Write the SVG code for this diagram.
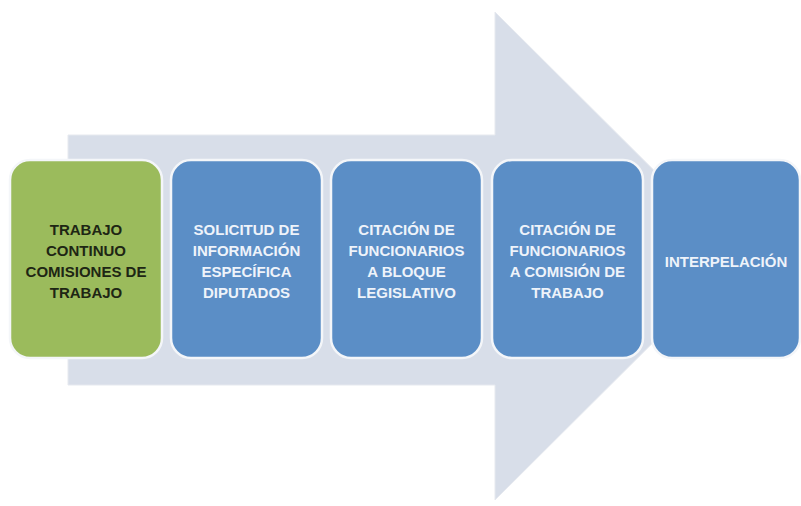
<svg xmlns="http://www.w3.org/2000/svg" width="801" height="506" viewBox="0 0 801 506">
<style>
.box{stroke:#f4f6f9;stroke-width:2.5}
.green{fill:#9bbb5c}
.blue{fill:#5b8ec6}
.t{font-family:"Liberation Sans",Arial,sans-serif;font-weight:bold;font-size:15px;text-anchor:middle}
.dark{fill:#1e2614}
.light{fill:#eef3fa}
</style>
<rect width="801" height="506" fill="#ffffff"/>
<g id="arrow">
<polygon points="68,135 495,135 495,12 740,256 495,500 495,385 68,385" fill="#d8dee9" stroke="#e6e9ef" stroke-width="1"/>
</g>
<g id="n1">
<rect class="box green" x="10" y="160" width="152" height="198" rx="20"/>
<text class="t dark"><tspan x="86" y="235">TRABAJO</tspan><tspan x="86" y="256">CONTINUO</tspan><tspan x="86" y="277">COMISIONES DE</tspan><tspan x="86" y="298">TRABAJO</tspan></text>
</g>
<g id="n2">
<rect class="box blue" x="171" y="160" width="151" height="198" rx="20"/>
<text class="t light"><tspan x="246.5" y="235">SOLICITUD DE</tspan><tspan x="246.5" y="256">INFORMACIÓN</tspan><tspan x="246.5" y="277">ESPECÍFICA</tspan><tspan x="246.5" y="298">DIPUTADOS</tspan></text>
</g>
<g id="n3">
<rect class="box blue" x="331" y="160" width="151" height="198" rx="20"/>
<text class="t light"><tspan x="406.5" y="235">CITACIÓN DE</tspan><tspan x="406.5" y="256">FUNCIONARIOS</tspan><tspan x="406.5" y="277">A BLOQUE</tspan><tspan x="406.5" y="298">LEGISLATIVO</tspan></text>
</g>
<g id="n4">
<rect class="box blue" x="492" y="160" width="151" height="198" rx="20"/>
<text class="t light"><tspan x="567.5" y="235">CITACIÓN DE</tspan><tspan x="567.5" y="256">FUNCIONARIOS</tspan><tspan x="567.5" y="277">A COMISIÓN DE</tspan><tspan x="567.5" y="298">TRABAJO</tspan></text>
</g>
<g id="n5">
<rect class="box blue" x="652" y="160" width="148" height="198" rx="20"/>
<text class="t light"><tspan x="726" y="267">INTERPELACIÓN</tspan></text>
</g>
<g id="connectors"></g>
</svg>
